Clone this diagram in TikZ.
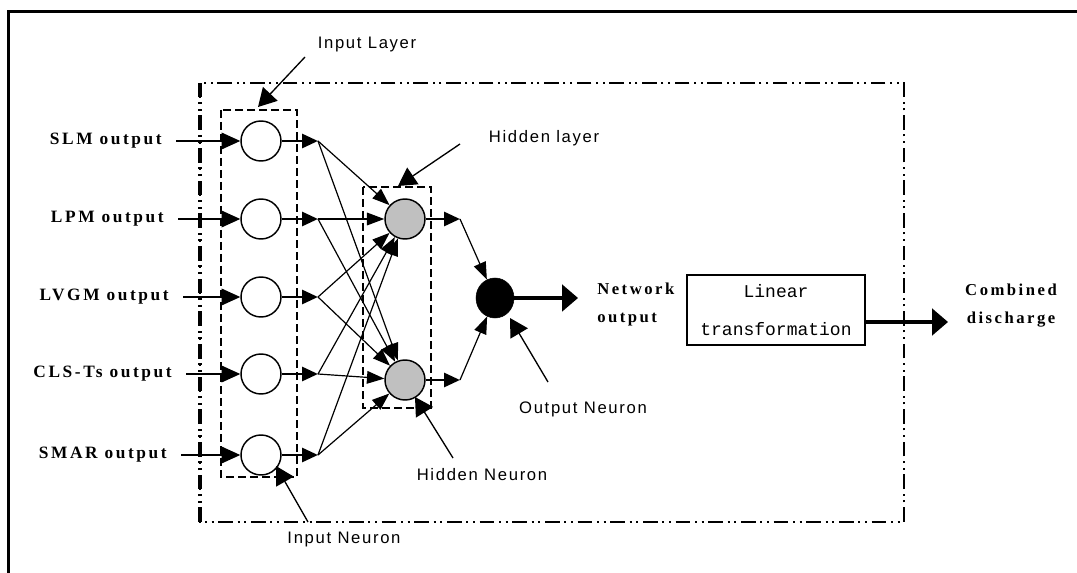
\documentclass[tikz,border=0pt]{standalone}
\usepackage{fontspec}
\setmainfont{Liberation Serif}
\setsansfont{Liberation Sans}
\setmonofont{Liberation Mono}
\newfontfamily\labfont{Liberation Serif}[LetterSpace=15]
\newfontfamily\annfont{Liberation Sans}[LetterSpace=10]
\usetikzlibrary{arrows.meta,shapes.geometric}
\definecolor{hidgray}{RGB}{192,192,192}
\begin{document}
\begin{tikzpicture}[x=0.75pt,y=-0.75pt,
  neuron/.style={circle,draw,line width=1.1pt,minimum size=30pt,inner sep=0pt,fill=white},
  hid/.style={neuron,fill=hidgray},
  outn/.style={ellipse,draw,fill=black,minimum width=28.5pt,minimum height=30pt,inner sep=0pt},
  inlab/.style={anchor=east,inner xsep=10.5pt,font=\labfont\bfseries\fontsize{13}{15}\selectfont},
  boldlab/.style={align=left,font=\labfont\bfseries\fontsize{12.5}{21}\selectfont},
  ann/.style={font=\annfont\fontsize{12.5}{14}\selectfont,inner sep=0pt},
  ltbox/.style={draw,line width=1.1pt,minimum width=133.5pt,minimum height=52.5pt,align=center,font=\ttfamily\fontsize{13.5}{15}\selectfont},
  inarr/.style={line width=1pt,-{Triangle[length=14pt,width=12.5pt]}},
  stub/.style={line width=2.2pt,-{Triangle[length=12pt,width=10.5pt]}},
  conn/.style={line width=0.9pt,-{Triangle[length=13pt,width=9.5pt]}},
  annarr/.style={line width=1pt,-{Triangle[length=13.5pt,width=15pt]}},
  bigarr/.style={line width=2.3pt,-{Triangle[length=12pt,width=20pt]}},
  ddot/.style={line width=1.5pt,dash pattern=on 11pt off 3.5pt on 1.5pt off 3.5pt on 1.5pt off 3.5pt},
  dashbox/.style={line width=1.5pt,dash pattern=on 6pt off 3pt}
]
\useasboundingbox (0,0) rectangle (1077,573);
% outer frame
\draw[line width=2.25pt] (8,573) -- (8,12) -- (1077,12);
% dash-dot system box
\draw[ddot] (200,83) rectangle (904,522);
\draw[ddot,line width=2.6pt] (200,522) -- (200,83);
% layer boxes
\draw[dashbox] (221,110) rectangle (297,477);
\draw[dashbox] (363,187) rectangle (431,408);

% input neurons
\node[neuron] (i1) at (261,141) {};
\node[neuron] (i2) at (261,219) {};
\node[neuron] (i3) at (261,297) {};
\node[neuron] (i4) at (261,374) {};
\node[neuron] (i5) at (261,455) {};
% hidden and output neurons
\node[hid] (h1) at (405,219) {};
\node[hid] (h2) at (405,380) {};
\node[outn] (o) at (495,298) {};

% input labels
\node[inlab] (l1) at (176,141) {SLM output};
\node[inlab] (l2) at (178,219) {LPM output};
\node[inlab] (l3) at (183,297) {LVGM output};
\node[inlab] (l4) at (186,374) {CLS-Ts output};
\node[inlab] (l5) at (181,455) {SMAR output};
\foreach \k in {1,...,5}{\draw[inarr] (l\k.east) -- (i\k.west);}

% stub tips
\coordinate (t1) at (318,141);
\coordinate (t2) at (318,219);
\coordinate (t3) at (318,297);
\coordinate (t4) at (318,374);
\coordinate (t5) at (318,455);
\foreach \k in {1,...,5}{
  \draw[stub] (i\k.east) -- (t\k);
  \draw[conn] (t\k) -- (h1);
  \draw[conn] (t\k) -- (h2);
}
\coordinate (s1) at (460,219);
\coordinate (s2) at (460,380);
\draw[stub] (h1.east) -- (s1);
\draw[stub] (h2.east) -- (s2);
\draw[conn] (s1) -- (o);
\draw[conn] (s2) -- (o);

% network output
\coordinate (nt) at (578,298);
\draw[bigarr] (o.east) -- (nt);
\node[boldlab,anchor=west,inner sep=0pt] (no) at (597,304) {Network\\output};

% linear transformation
\node[ltbox] (lt) at (776,310) {Linear\\[13pt]transformation};
\coordinate (ct) at (948,322);
\draw[bigarr] (lt.east |- ct) -- (ct);
\node[boldlab,align=center,inner sep=0pt] (cd) at (1011,306) {Combined\\discharge};

% annotations
\node[ann] (a1) at (367,45) {Input Layer};
\coordinate (a1s) at (305,57); \coordinate (a1t) at (258,107);
\draw[annarr] (a1s) -- (a1t);
\node[ann] (a2) at (544,138) {Hidden layer};
\coordinate (a2s) at (460,144); \coordinate (a2t) at (398,186);
\draw[annarr] (a2s) -- (a2t);
\node[ann] (a3) at (482,475) {Hidden Neuron};
\coordinate (a3s) at (453,458); \coordinate (a3t) at (415,397);
\draw[annarr] (a3s) -- (a3t);
\node[ann] (a4) at (344,539) {Input Neuron};
\coordinate (a4s) at (308,522); \coordinate (a4t) at (276,466);
\draw[annarr] (a4s) -- (a4t);
\node[ann] (a5) at (583,409) {Output Neuron};
\coordinate (a5s) at (548,382); \coordinate (a5t) at (510,318);
\draw[annarr] (a5s) -- (a5t);
\end{tikzpicture}
\end{document}
